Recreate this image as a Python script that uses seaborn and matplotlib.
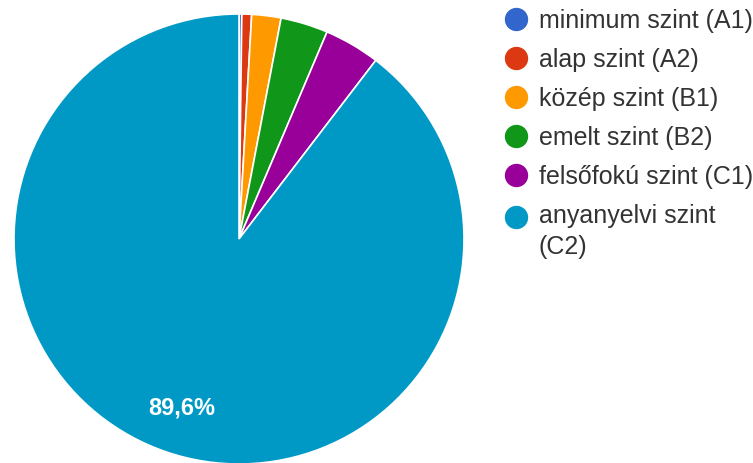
import matplotlib
matplotlib.use('Agg')
import matplotlib.pyplot as plt
import seaborn as sns
import numpy as np
from matplotlib.lines import Line2D
from matplotlib.legend_handler import HandlerLine2D

sns.set_theme(style='white')
plt.rcParams['font.family'] = ['Liberation Sans', 'DejaVu Sans']

# adatok
szintek = ['minimum szint (A1)', 'alap szint (A2)', 'közép szint (B1)',
           'emelt szint (B2)', 'felsőfokú szint (C1)', 'anyanyelvi szint\n(C2)']
aranyok = [0.2, 0.7, 2.1, 3.4, 4.0, 89.6]
szinek = ['#3366cc', '#dc3912', '#ff9900', '#109618', '#990099', '#0099c6']

fig = plt.figure(figsize=(7.53, 4.63), dpi=100)
ax = fig.add_axes([14 / 753, -1 / 463, 450 / 753, 450 / 463])

paletta = sns.color_palette(szinek)


def cimke(p):
    # csak a nagy szeletre kerül felirat
    return f'{p:.1f}%'.replace('.', ',') if p > 50 else ''


wedges, texts, autotexts = ax.pie(
    aranyok, colors=paletta, startangle=90, counterclock=False,
    autopct=cimke, pctdistance=0.794,
    wedgeprops=dict(edgecolor='white', linewidth=1.2),
    textprops=dict(color='white', fontsize=17, fontweight='bold'))
ax.set_xlim(-1, 1)
ax.set_ylim(-1, 1)
ax.set_aspect('equal')
ax.axis('off')


class ElsoSorKezelo(HandlerLine2D):
    """kétsoros feliratnál a kör az első sorhoz igazodjon"""
    def __init__(self, eltolas, **kw):
        super().__init__(**kw)
        self.eltolas = eltolas

    def create_artists(self, legend, orig_handle, xdescent, ydescent,
                       width, height, fontsize, trans):
        artists = super().create_artists(legend, orig_handle, xdescent, ydescent,
                                         width, height, fontsize, trans)
        for a in artists:
            a.set_ydata(np.asarray(a.get_ydata()) + self.eltolas)
        return artists


handles = [Line2D([], [], marker='o', linestyle='', markersize=15.8,
                  markerfacecolor=c, markeredgecolor=c) for c in paletta]
leg = fig.legend(handles, szintek, loc='upper left',
                 bbox_to_anchor=(504 / 753, 1 - 9 / 463),
                 frameon=False, fontsize=18, borderpad=0, borderaxespad=0,
                 handlelength=0.95, handletextpad=0.45, labelspacing=0.6,
                 labelcolor='#333333',
                 handler_map={handles[-1]: ElsoSorKezelo(11.2)})
for t in leg.get_texts():
    t.set_linespacing(1.37)

plt.savefig('out.png', dpi=100)
plt.close()
